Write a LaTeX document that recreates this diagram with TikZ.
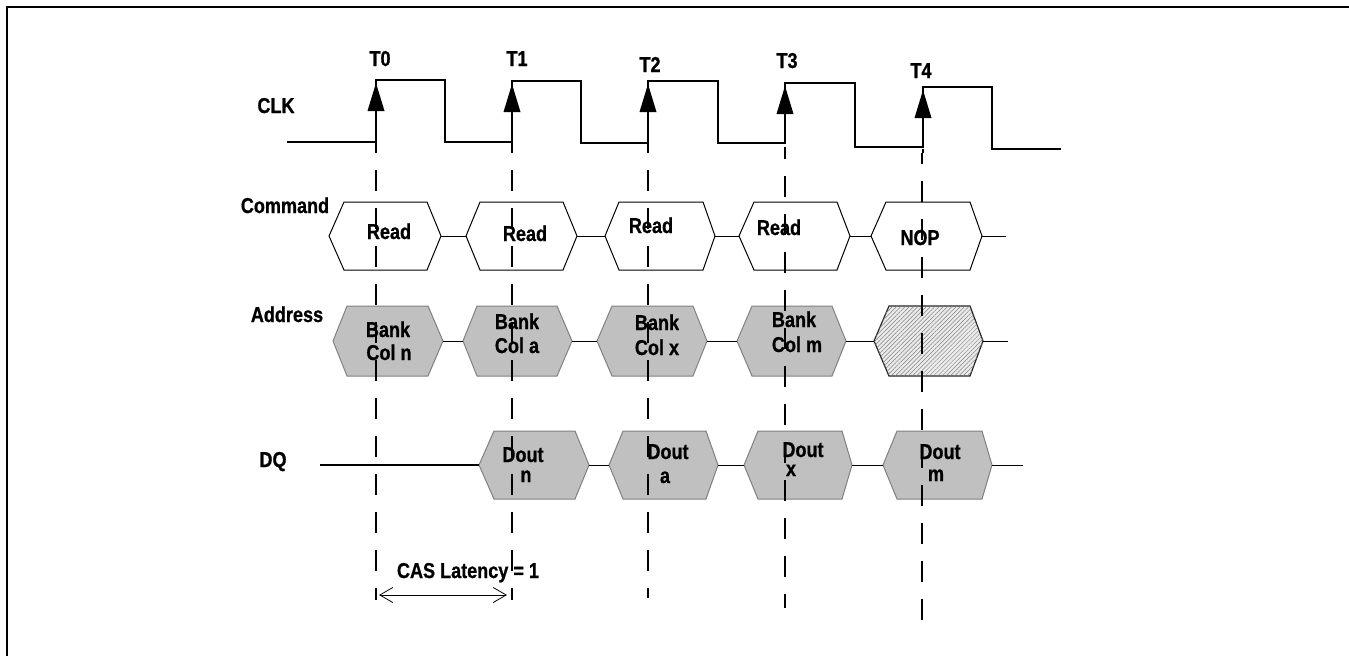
\documentclass[tikz,border=0pt]{standalone}
\usepackage{fontspec}
\setmainfont[FakeStretch=0.84,BoldFeatures={FakeBold=0.8}]{Liberation Sans}
\usetikzlibrary{arrows.meta,patterns.meta}
\definecolor{boxgray}{HTML}{C0C0C0}
\definecolor{edgegray}{HTML}{808080}
\newcommand\sigfont{\fontsize{21.5pt}{24pt}\selectfont\bfseries}
% #1 style, #2 name, #3 left point x, #4 top-left x, #5 top-right x, #6 right point x, #7 top y, #8 bottom y
\newcommand\tdhex[8]{%
  \draw[#1] (#3,{(#7+#8)/2}) coordinate (#2w) -- (#4,#7) -- (#5,#7)
    -- (#6,{(#7+#8)/2}) coordinate (#2e) -- (#5,#8) -- (#4,#8) -- cycle;}
\begin{document}
\begin{tikzpicture}[x=1pt,y=-1pt,
  cmdbox/.style={draw=black,fill=white,line width=1pt},
  graybox/.style={draw=edgegray,fill=boxgray,line width=1pt},
  hatchbox/.style={draw=black!85,line width=1.2pt,fill=white!92!black,
    postaction={pattern={Lines[angle=45,distance=3pt,line width=0.5pt]},pattern color=black!50}},
  link/.style={line width=1pt},
  clk/.style={line width=2pt},
  guide/.style={line width=2pt,dash pattern=on 21pt off 17pt,dash phase=21pt},
  arrowhead/.style={fill=black},
  lbl/.style={font=\sigfont,anchor=base,inner sep=0pt}]
\useasboundingbox (0,0) rectangle (1349,656);
\fill[white] (0,0) rectangle (1349,656);
% frame
\draw[line width=2pt] (7,656) -- (7,7) -- (1349,7);

% clock waveform
\draw[clk] (287,142) -- (376,142) -- (376,80) -- (445,80) -- (445,142) -- (512,142)
  -- (512,81) -- (581,81) -- (581,143) -- (648,143) -- (648,81) -- (718,81)
  -- (718,143) -- (785,143) -- (785,83) -- (855,83) -- (855,147) -- (923,147)
  -- (923,87) -- (992,87) -- (992,149) -- (1061,149);
% rising edge arrowheads
\fill[arrowhead] (376,83) -- (367.5,111) -- (384.5,111) -- cycle;
\fill[arrowhead] (512,84) -- (503.5,112) -- (520.5,112) -- cycle;
\fill[arrowhead] (648,84) -- (639.5,112) -- (656.5,112) -- cycle;
\fill[arrowhead] (785,86) -- (776.5,114) -- (793.5,114) -- cycle;
\fill[arrowhead] (923,90) -- (914.5,118) -- (931.5,118) -- cycle;

% labels
\node[lbl] (t0) at (380,66) {T0};
\node[lbl] (t1) at (517,66) {T1};
\node[lbl] (t2) at (650,72) {T2};
\node[lbl] (t3) at (787,68) {T3};
\node[lbl] (t4) at (921,78) {T4};
\node[lbl] (clkl) at (276,113) {CLK};
\node[lbl] (cmdl) at (285,213) {Command};
\node[lbl] (addrl) at (287,322) {Address};
\node[lbl] (dql) at (273,467) {DQ};

% Command row
\tdhex{cmdbox}{ca}{329}{344}{427}{441}{202}{270}
\tdhex{cmdbox}{cb}{466}{480}{563}{577}{202}{270}
\tdhex{cmdbox}{cc}{605}{619}{703}{715}{202}{270}
\tdhex{cmdbox}{cd}{739}{754}{837}{850}{202}{270}
\tdhex{cmdbox}{ce}{871}{886}{970}{982}{202}{270}
\coordinate (cend) at (1006,236);
\draw[link] (cae) -- (cbw);
\draw[link] (cbe) -- (ccw);
\draw[link] (cce) -- (cdw);
\draw[link] (cde) -- (cew);
\draw[link] (cee) -- (cend);
\node[lbl] (r1) at (389,239) {Read};
\node[lbl] (r2) at (525,241) {Read};
\node[lbl] (r3) at (651,233) {Read};
\node[lbl] (r4) at (779,235) {Read};
\node[lbl] (nop) at (920,245) {NOP};

% Address row
\tdhex{graybox}{aa}{333}{347}{428}{443}{306}{376}
\tdhex{graybox}{ab}{463}{477}{557}{572}{306}{376}
\tdhex{graybox}{ac}{597}{612}{693}{707}{306}{376}
\tdhex{graybox}{ad}{737}{752}{832}{846}{306}{376}
\tdhex{hatchbox}{ae}{874}{889}{970}{983}{306}{376}
\coordinate (aend) at (1008,341);
\draw[link] (aae) -- (abw);
\draw[link] (abe) -- (acw);
\draw[link] (ace) -- (adw);
\draw[link] (ade) -- (aew);
\draw[link] (aee) -- (aend);
\node[lbl] (b1) at (388,337) {Bank};
\node[lbl] (c1) at (389,360) {Col n};
\node[lbl] (b2) at (517,329) {Bank};
\node[lbl] (c2) at (517,353) {Col a};
\node[lbl] (b3) at (657,330) {Bank};
\node[lbl] (c3) at (657,355) {Col x};
\node[lbl] (b4) at (794,327) {Bank};
\node[lbl] (c4) at (797,352) {Col m};

% DQ row
\tdhex{graybox}{da}{479}{494}{575}{589}{431}{499}
\tdhex{graybox}{db}{609}{623}{706}{718}{431}{499}
\tdhex{graybox}{dc}{744}{758}{842}{852}{431}{499}
\tdhex{graybox}{dd}{883}{897}{982}{992}{431}{499}
\coordinate (dstart) at (320,465);
\coordinate (dend) at (1023,465);
\draw[clk] (dstart) -- (daw);
\draw[link] (dae) -- (dbw);
\draw[link] (dbe) -- (dcw);
\draw[link] (dce) -- (ddw);
\draw[link] (dde) -- (dend);
\node[lbl] (d1) at (523,462) {Dout};
\node[lbl] (s1) at (526,482) {n};
\node[lbl] (d2) at (668,459) {Dout};
\node[lbl] (s2) at (665,483) {a};
\node[lbl] (d3) at (803,457) {Dout};
\node[lbl] (s3) at (791,476) {x};
\node[lbl] (d4) at (940,459) {Dout};
\node[lbl] (s4) at (936,481) {m};

% timing guides
\draw[clk] (376,142) -- (376,153);
\draw[clk] (512,142) -- (512,153);
\draw[clk] (648,143) -- (648,153);
\draw[clk] (785,147) -- (785,153);
\draw[clk] (923,149) -- (923,153);
\draw[guide] (376,153) coordinate (g0) -- (376,600) coordinate (e0);
\draw[guide] (512,153) coordinate (g1) -- (512,600) coordinate (e1);
\draw[guide] (648,153) coordinate (g2) -- (648,598) coordinate (e2);
\draw[guide,dash phase=15pt] (785,153) coordinate (g3) -- (785,608) coordinate (e3);
\draw[guide,dash phase=10pt] (922,153) coordinate (g4) -- (922,621) coordinate (e4);

% CAS latency
\node[lbl] (cas) at (468,578) {CAS Latency = 1};
\coordinate (casL) at (379,595);
\coordinate (casR) at (507,595);
\draw[{Straight Barb[length=13pt,width=15pt]}-{Straight Barb[length=13pt,width=15pt]},line width=0.8pt] (casL) -- (casR);
\end{tikzpicture}
\end{document}
